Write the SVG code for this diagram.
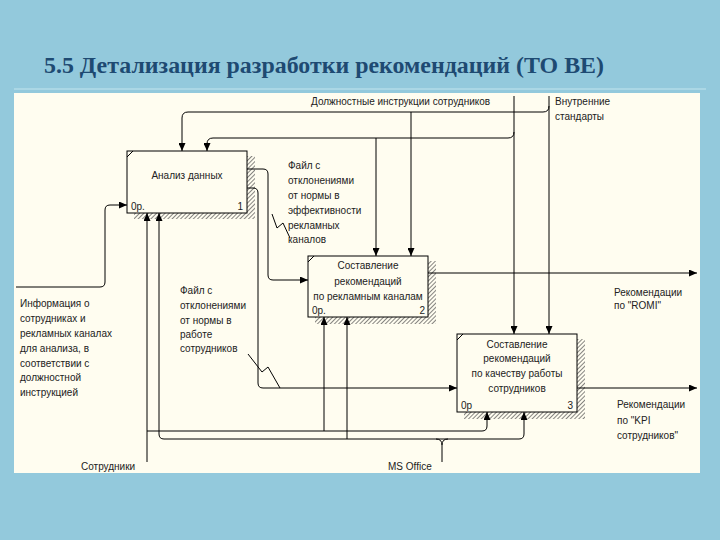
<svg xmlns="http://www.w3.org/2000/svg" width="720" height="540" viewBox="0 0 720 540">
<defs>
<style>
.t{font-family:"Liberation Sans","DejaVu Sans",sans-serif;font-size:10px;fill:#222}
.c{stroke:#000;stroke-width:1;fill:none}
.box{fill:#fffdf0;stroke:#000;stroke-width:1}
.sh{fill:url(#hatch);stroke:none}
</style>
<pattern id="hatch" width="3" height="3" patternUnits="userSpaceOnUse" patternTransform="rotate(45)">
<rect width="3" height="3" fill="#fffdf0"/>
<line x1="0" y1="0" x2="0" y2="3" stroke="#444" stroke-width="1.3"/>
</pattern>
<marker id="ar" markerWidth="8" markerHeight="7" refX="8" refY="3.5" orient="auto" markerUnits="userSpaceOnUse">
<path d="M0,0 L8,3.5 L0,7 z" fill="#000"/>
</marker>
</defs>
<rect width="720" height="540" fill="#93c9dc"/>
<text x="44" y="73" font-family="'Liberation Serif','DejaVu Serif',serif" font-weight="bold" font-size="23" fill="#1e4a72" textLength="560" lengthAdjust="spacingAndGlyphs">5.5 Детализация разработки рекомендаций (ТО ВЕ)</text>
<line x1="14" y1="89" x2="706" y2="89" stroke="#b3dbe8" stroke-width="1.5"/>
<rect x="14" y="93" width="686" height="380" fill="#fffdf0"/>

<g id="box1">
<rect class="sh" x="134" y="156" width="121" height="63"/>
<rect class="box" x="127" y="151" width="120" height="62"/>
<line class="c" x1="127" y1="157" x2="133" y2="151"/>
<text class="t" x="187" y="179" text-anchor="middle">Анализ данных</text>
<text class="t" x="131" y="210">0р.</text>
<text class="t" x="243" y="210" text-anchor="end">1</text>
</g>
<g id="box2">
<rect class="sh" x="315" y="261" width="121" height="63"/>
<rect class="box" x="308" y="256" width="120" height="61"/>
<line class="c" x1="308" y1="262" x2="314" y2="256"/>
<text class="t" x="368" y="269" text-anchor="middle">Составление</text>
<text class="t" x="368" y="285" text-anchor="middle">рекомендаций</text>
<text class="t" x="368" y="300" text-anchor="middle">по рекламным каналам</text>
<text class="t" x="312" y="314">0р.</text>
<text class="t" x="425" y="314" text-anchor="end">2</text>
</g>
<g id="box3">
<rect class="sh" x="464" y="339" width="121" height="80"/>
<rect class="box" x="457" y="334" width="120" height="78"/>
<line class="c" x1="457" y1="340" x2="463" y2="334"/>
<text class="t" x="517" y="348" text-anchor="middle">Составление</text>
<text class="t" x="517" y="362" text-anchor="middle">рекомендаций</text>
<text class="t" x="517" y="377" text-anchor="middle">по качеству работы</text>
<text class="t" x="517" y="392" text-anchor="middle">сотрудников</text>
<text class="t" x="461" y="409">0р</text>
<text class="t" x="573" y="409" text-anchor="end">3</text>
</g>

<g id="connectors">
<path class="c" d="M549,96 V334" marker-end="url(#ar)"/>
<path class="c" d="M549,106 Q549,112 543,112 H188 Q182,112 182,118 V151" marker-end="url(#ar)"/>
<path class="c" d="M411,112 V256" marker-end="url(#ar)"/>
<path class="c" d="M514,96 V334" marker-end="url(#ar)"/>
<path class="c" d="M514,132 Q514,138 508,138 H213 Q207,138 207,144 V151" marker-end="url(#ar)"/>
<path class="c" d="M376,138 V256" marker-end="url(#ar)"/>
<path class="c" d="M247,169 H263 Q268,169 268,174 V275 Q268,280 273,280 H308" marker-end="url(#ar)"/>
<path class="c" d="M247,188 H253 Q258,188 258,193 V383 Q258,388 263,388 H457" marker-end="url(#ar)"/>
<path class="c" d="M16,287 H100 Q105,287 105,282 V210 Q105,205 110,205 H127" marker-end="url(#ar)"/>
<path class="c" d="M147,462 V213" marker-end="url(#ar)"/>
<path class="c" d="M147,431 H482 Q487,431 487,426 V412" marker-end="url(#ar)"/>
<path class="c" d="M324,431 V317" marker-end="url(#ar)"/>
<path class="c" d="M159,434 V213" marker-end="url(#ar)"/>
<path class="c" d="M159,434 Q159,439 164,439 H519 Q524,439 524,434 V412" marker-end="url(#ar)"/>
<path class="c" d="M347,439 V317" marker-end="url(#ar)"/>
<path class="c" d="M442,462 V445 Q442,439 436,439 M442,445 Q442,439 448,439"/>
<path class="c" d="M428,273 H697" marker-end="url(#ar)"/>
<path class="c" d="M577,388 H697" marker-end="url(#ar)"/>
<path class="c" d="M272,214 L277,228 L283,223 L290,238"/>
<path class="c" d="M248,354 L262,372 L268,367 L280,388"/>
</g>

<g id="labels">
<text class="t" x="311" y="105">Должностные инструкции сотрудников</text>
<text class="t" x="555" y="105">Внутренние</text>
<text class="t" x="555" y="120">стандарты</text>
<text class="t" x="288" y="169">Файл с</text>
<text class="t" x="288" y="184">отклонениями</text>
<text class="t" x="288" y="199">от нормы в</text>
<text class="t" x="288" y="214">эффективности</text>
<text class="t" x="288" y="229">рекламных</text>
<text class="t" x="288" y="243">каналов</text>
<text class="t" x="180" y="294">Файл с</text>
<text class="t" x="180" y="309">отклонениями</text>
<text class="t" x="180" y="324">от нормы в</text>
<text class="t" x="180" y="338">работе</text>
<text class="t" x="180" y="352">сотрудников</text>
<text class="t" x="20" y="307">Информация о</text>
<text class="t" x="20" y="322">сотрудниках и</text>
<text class="t" x="20" y="337">рекламных каналах</text>
<text class="t" x="20" y="352">для анализа, в</text>
<text class="t" x="20" y="367">соответствии с</text>
<text class="t" x="20" y="381">должностной</text>
<text class="t" x="20" y="396">инструкцией</text>
<text class="t" x="614" y="296">Рекомендации</text>
<text class="t" x="614" y="309">по "ROMI"</text>
<text class="t" x="617" y="408">Рекомендации</text>
<text class="t" x="617" y="424">по "KPI</text>
<text class="t" x="617" y="439">сотрудников"</text>
<text class="t" x="81" y="470">Сотрудники</text>
<text class="t" x="388" y="470">MS Office</text>
</g>
</svg>
